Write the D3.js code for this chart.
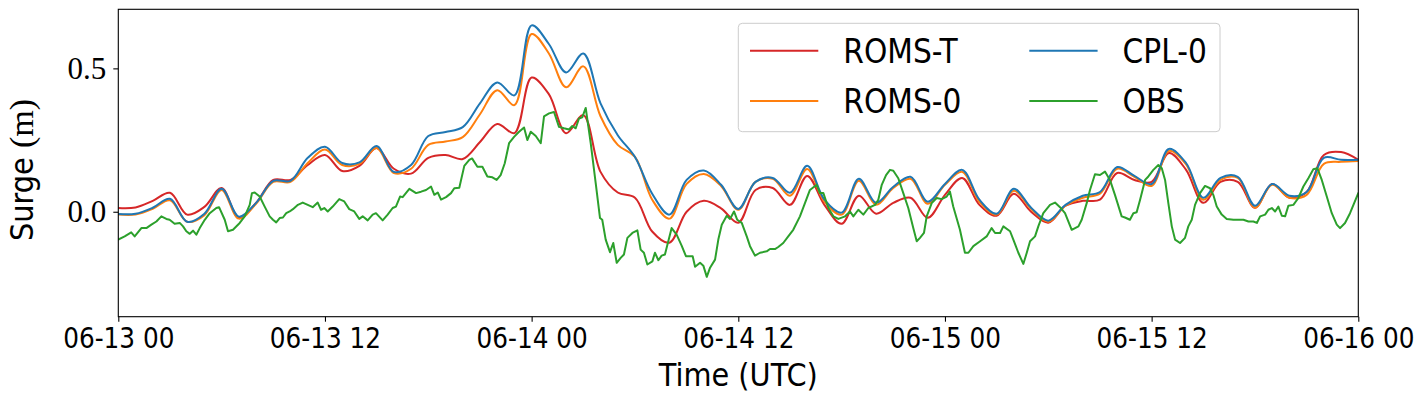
<!DOCTYPE html>
<html>
<head>
<meta charset="utf-8">
<script src="https://cdn.jsdelivr.net/npm/d3@7"></script>
<style>
  html, body { margin: 0; padding: 0; background: #ffffff; }
  svg { display: block; }
  .sans { font-family: "DejaVu Sans Condensed", "Liberation Sans Narrow", "DejaVu Sans", sans-serif; font-stretch: condensed; }
  .serif { font-family: "Liberation Serif", "DejaVu Serif", serif; }
</style>
</head>
<body>
<svg id="chart" width="1424" height="405"></svg>
<script>
// ---------------- data ----------------
const tickHours = [0, 12, 24, 36, 48, 60, 72];
const tickLabels = ["06-13 00", "06-13 12", "06-14 00", "06-14 12", "06-15 00", "06-15 12", "06-16 00"];
const yTickValues = [0.0, 0.5];
const yTickLabels = ["0.0", "0.5"];
const seriesNames = ["ROMS-T", "ROMS-0", "CPL-0", "OBS"];
const seriesColors = ["#d62728", "#ff7f0e", "#1f77b4", "#2ca02c"];

// model output, hourly from 06-13 00 (hours 0..72)
const modelHours = [0,1,2,3,4,5,6,7,8,9,10,11,12,13,14,15,16,17,18,19,20,21,22,23,24,25,26,27,28,29,30,31,32,33,34,35,36,37,38,39,40,41,42,43,44,45,46,47,48,49,50,51,52,53,54,55,56,57,58,59,60,61,62,63,64,65,66,67,68,69,70,71,72];

const romsT = [0.013, 0.015, 0.038, 0.066, -0.010, 0.017, 0.083, -0.021, 0.031, 0.111,
  0.111, 0.163, 0.198, 0.142, 0.160, 0.222, 0.150, 0.133, 0.188, 0.198,
  0.184, 0.243, 0.306, 0.274, 0.468, 0.410, 0.274, 0.337, 0.139, 0.067,
  0.049, -0.069, -0.108, 0.000, 0.038, 0.012, -0.038, 0.076, 0.083, 0.024,
  0.125, 0.024, -0.042, 0.056, -0.007, 0.031, 0.049, -0.021, 0.059, 0.118,
  0.024, -0.014, 0.0625, 0.000, -0.038, 0.021, 0.038, 0.042, 0.135, 0.111,
  0.104, 0.205, 0.146, 0.031, 0.104, 0.104, 0.014, 0.097, 0.049, 0.069,
  0.198, 0.208, 0.181];

const roms0 = [-0.010, -0.010, 0.010, 0.040, -0.035, -0.012, 0.076, -0.024, 0.028, 0.104,
  0.104, 0.170, 0.217, 0.163, 0.167, 0.222, 0.135, 0.150, 0.233, 0.245,
  0.260, 0.340, 0.424, 0.372, 0.620, 0.552, 0.434, 0.507, 0.333, 0.233,
  0.191, 0.042, -0.024, 0.097, 0.132, 0.090, 0.007, 0.104, 0.115, 0.056,
  0.149, 0.035, -0.010, 0.108, 0.024, 0.083, 0.115, 0.028, 0.094, 0.139,
  0.035, -0.010, 0.073, 0.010, -0.035, 0.021, 0.049, 0.063, 0.150, 0.122,
  0.090, 0.212, 0.165, 0.042, 0.111, 0.118, 0.014, 0.094, 0.049, 0.059,
  0.167, 0.174, 0.177];

const cpl0 = [-0.008, -0.007, 0.014, 0.045, -0.035, -0.007, 0.080, -0.017, 0.031, 0.108,
  0.108, 0.188, 0.227, 0.170, 0.172, 0.229, 0.139, 0.163, 0.264, 0.278,
  0.295, 0.378, 0.451, 0.406, 0.650, 0.585, 0.486, 0.552, 0.378, 0.267,
  0.191, 0.0625, -0.010, 0.111, 0.144, 0.094, 0.010, 0.104, 0.118, 0.066,
  0.160, 0.042, -0.003, 0.115, 0.031, 0.087, 0.122, 0.035, 0.097, 0.146,
  0.042, -0.007, 0.080, 0.014, -0.031, 0.024, 0.056, 0.069, 0.156, 0.125,
  0.097, 0.219, 0.170, 0.049, 0.118, 0.122, 0.021, 0.097, 0.056, 0.069,
  0.188, 0.181, 0.181];

// observations (irregular sample times, hours from 06-13 00)
const obsHours = [0.00,0.37,0.75,0.95,1.34,1.63,1.92,2.21,2.50,2.79,2.98,3.27,3.57,3.76,3.95,4.15,4.34,4.53,4.73,5.02,
  5.31,5.69,5.85,6.18,6.37,6.66,7.05,7.34,7.63,7.76,7.92,8.21,8.50,8.79,8.98,9.17,9.37,9.56,9.75,9.95,
  10.14,10.43,10.71,11.29,11.58,11.77,11.96,12.16,12.45,12.83,13.12,13.41,13.70,13.99,14.19,14.48,14.77,14.96,15.35,15.64,
  15.93,16.12,16.36,16.51,16.90,17.29,17.58,17.87,18.16,18.35,18.55,18.74,19.03,19.32,19.51,19.80,20.09,20.38,20.54,20.85,
  21.14,21.43,21.72,21.97,22.20,22.44,22.69,22.98,23.27,23.56,23.75,23.95,24.24,24.53,24.72,25.01,25.30,25.59,25.88,26.17,
  26.36,26.56,26.75,26.94,27.14,27.43,27.72,27.97,28.10,28.30,28.55,28.74,28.94,29.17,29.36,29.56,29.85,30.14,30.33,30.52,
  30.72,31.01,31.16,31.36,31.55,31.74,32.13,32.42,32.71,32.96,33.35,33.49,33.78,33.97,34.17,34.36,34.65,34.84,35.04,35.33,
  35.52,35.75,35.94,36.20,36.49,36.68,36.97,37.26,37.65,37.84,38.13,38.32,38.61,38.90,39.19,39.58,39.87,40.16,40.55,40.74,
  40.94,41.23,41.52,41.81,42.20,42.49,42.68,42.97,43.26,43.55,43.94,44.13,44.33,44.58,44.81,45.00,45.29,45.58,45.87,46.16,
  46.36,46.55,46.78,46.94,47.23,47.52,47.81,48.10,48.29,48.48,48.87,49.16,49.36,49.65,50.04,50.42,50.71,50.91,51.20,51.39,
  51.78,51.97,52.26,52.55,52.75,52.94,53.23,53.42,53.71,54.10,54.39,54.68,54.97,55.36,55.75,55.94,56.23,56.42,56.71,57.00,
  57.29,57.58,57.87,58.26,58.45,58.74,58.94,59.13,59.33,59.62,59.81,60.10,60.39,60.59,60.78,60.97,61.17,61.36,61.65,61.94,
  62.13,62.33,62.52,62.81,63.10,63.39,63.58,63.78,64.07,64.36,64.75,65.33,65.62,65.91,66.11,66.30,66.59,66.78,66.98,67.17,
  67.36,67.56,67.75,67.94,68.23,68.52,68.81,69.10,69.39,69.62,69.88,70.17,70.46,70.75,70.94,71.23,71.52,72.00];

const obsValues = [-0.097,-0.086,-0.072,-0.086,-0.057,-0.057,-0.045,-0.034,-0.016,-0.025,-0.028,-0.042,-0.039,-0.051,-0.068,-0.077,-0.066,-0.080,-0.057,-0.028,
  -0.005,0.013,0.016,-0.028,-0.068,-0.063,-0.039,-0.016,0.024,0.065,0.067,0.053,0.018,-0.016,-0.028,-0.037,-0.022,-0.020,-0.005,0.001,
  0.009,0.024,0.032,0.016,0.032,0.007,0.013,0.001,0.018,0.044,0.036,0.009,0.001,-0.025,-0.016,-0.030,-0.010,-0.005,-0.030,-0.010,
  0.013,0.018,0.053,0.051,0.080,0.065,0.070,0.076,0.088,0.059,0.067,0.042,0.051,0.065,0.082,0.084,0.160,0.181,0.186,0.157,
  0.157,0.123,0.120,0.111,0.128,0.169,0.239,0.261,0.279,0.294,0.250,0.279,0.264,0.239,0.333,0.343,0.348,0.296,0.291,0.287,
  0.299,0.291,0.325,0.329,0.362,0.239,0.100,-0.022,-0.028,-0.097,-0.141,-0.109,-0.178,-0.161,-0.149,-0.091,-0.074,-0.065,-0.132,-0.143,
  -0.184,-0.173,-0.143,-0.169,-0.153,-0.149,-0.057,-0.080,-0.118,-0.155,-0.155,-0.192,-0.178,-0.188,-0.227,-0.195,-0.167,-0.097,-0.045,-0.014,
  -0.025,0.001,-0.028,-0.039,-0.086,-0.120,-0.153,-0.143,-0.138,-0.130,-0.130,-0.123,-0.109,-0.086,-0.063,-0.016,0.030,0.076,0.094,0.065,
  0.065,0.013,-0.016,-0.025,-0.016,0.001,-0.016,0.007,-0.010,0.013,0.024,0.042,0.094,0.128,0.146,0.143,0.117,0.065,0.013,-0.057,
  -0.103,-0.091,-0.074,-0.016,0.030,0.048,0.044,0.053,0.070,0.018,-0.063,-0.143,-0.143,-0.120,-0.103,-0.086,-0.057,-0.074,-0.074,-0.051,
  -0.068,-0.097,-0.143,-0.182,-0.143,-0.103,-0.086,-0.051,-0.005,0.024,0.032,0.016,-0.005,-0.063,-0.051,-0.028,0.030,0.076,0.131,0.128,
  0.140,0.111,0.059,-0.016,-0.020,-0.028,-0.005,-0.002,0.042,0.111,0.123,0.146,0.163,0.152,0.111,0.030,-0.051,-0.097,-0.109,-0.091,
  -0.051,-0.028,0.024,0.065,0.090,0.082,0.059,0.018,-0.010,-0.025,-0.028,-0.028,-0.034,-0.034,-0.039,-0.016,-0.010,0.007,0.013,0.001,
  0.018,-0.014,-0.016,0.021,0.024,0.048,0.088,0.117,0.148,0.152,0.111,0.053,-0.005,-0.045,-0.057,-0.039,-0.005,0.065];

// ---------------- layout ----------------
const plot = { left: 118.3, right: 1358.3, top: 9.3, bottom: 316.7 };

const svg = d3.select("#chart");

const x = d3.scaleLinear().domain([0, 72]).range([plot.left, plot.right]);
const y = d3.scaleLinear().domain([-0.366, 0.706]).range([plot.bottom, plot.top]);

svg.append("defs").append("clipPath").attr("id", "clip")
  .append("rect")
  .attr("x", plot.left).attr("y", plot.top)
  .attr("width", plot.right - plot.left).attr("height", plot.bottom - plot.top);

const modelLine = d3.line()
  .x((d, i) => x(modelHours[i]))
  .y(d => y(d))
  .curve(d3.curveCatmullRom.alpha(0.5));

const obsLine = d3.line()
  .x((d, i) => x(obsHours[i]))
  .y(d => y(d));

const lines = svg.append("g").attr("clip-path", "url(#clip)");
const modelSeries = [romsT, roms0, cpl0];
modelSeries.forEach((vals, k) => {
  lines.append("path")
    .attr("d", modelLine(vals))
    .attr("fill", "none")
    .attr("stroke", seriesColors[k])
    .attr("stroke-width", 2)
    .attr("stroke-linejoin", "round")
    .attr("stroke-linecap", "round");
});
lines.append("path")
  .attr("d", obsLine(obsValues))
  .attr("fill", "none")
  .attr("stroke", seriesColors[3])
  .attr("stroke-width", 2)
  .attr("stroke-linejoin", "round")
  .attr("stroke-linecap", "round");

// ---------------- axes ----------------
const xAxis = d3.axisBottom(x)
  .tickValues(tickHours)
  .tickFormat((d, i) => tickLabels[i])
  .tickSize(5)
  .tickPadding(6.5);
const gx = svg.append("g")
  .attr("transform", `translate(0,${plot.bottom})`)
  .call(xAxis);
gx.select(".domain").remove();
gx.selectAll(".tick line").attr("stroke", "#000").attr("stroke-width", 1.1);
gx.selectAll(".tick text")
  .attr("class", "sans")
  .attr("fill", "#000")
  .style("font-size", "27.5px");

const yAxis = d3.axisLeft(y)
  .tickValues(yTickValues)
  .tickFormat((d, i) => yTickLabels[i])
  .tickSize(5)
  .tickPadding(7);
const gy = svg.append("g")
  .attr("transform", `translate(${plot.left},0)`)
  .call(yAxis);
gy.select(".domain").remove();
gy.selectAll(".tick line").attr("stroke", "#000").attr("stroke-width", 1.1);
gy.selectAll(".tick text")
  .attr("class", "serif")
  .attr("fill", "#000")
  .style("font-size", "31px");

// frame
svg.append("rect")
  .attr("x", plot.left).attr("y", plot.top)
  .attr("width", plot.right - plot.left).attr("height", plot.bottom - plot.top)
  .attr("fill", "none").attr("stroke", "#000").attr("stroke-width", 1.1);

// axis titles
svg.append("text")
  .attr("class", "sans")
  .attr("x", (plot.left + plot.right) / 2)
  .attr("y", 386)
  .attr("text-anchor", "middle")
  .style("font-size", "32px")
  .text("Time (UTC)");

const ylab = svg.append("text")
  .attr("transform", "translate(33,170) rotate(-90)")
  .attr("text-anchor", "middle");
ylab.append("tspan").attr("class", "sans").style("font-size", "32px").text("Surge ");
ylab.append("tspan").attr("class", "serif").style("font-size", "34px").text("(m)");

// ---------------- legend ----------------
const legend = svg.append("g");
legend.append("rect")
  .attr("x", 738.3).attr("y", 23.3)
  .attr("width", 481.7).attr("height", 108.4)
  .attr("rx", 4).attr("ry", 4)
  .attr("fill", "#ffffff").attr("fill-opacity", 0.8)
  .attr("stroke", "#cccccc").attr("stroke-width", 1);

const legendCols = [750, 1029.3];
const legendRows = [50.7, 101];
seriesNames.forEach((name, i) => {
  const col = Math.floor(i / 2), row = i % 2;
  const lx = legendCols[col], ly = legendRows[row];
  legend.append("line")
    .attr("x1", lx).attr("x2", lx + 68.3)
    .attr("y1", ly).attr("y2", ly)
    .attr("stroke", seriesColors[i]).attr("stroke-width", 2);
  legend.append("text")
    .attr("class", "sans")
    .attr("x", lx + 93.3)
    .attr("y", ly + 12)
    .style("font-size", "33px")
    .text(name);
});
</script>
</body>
</html>
